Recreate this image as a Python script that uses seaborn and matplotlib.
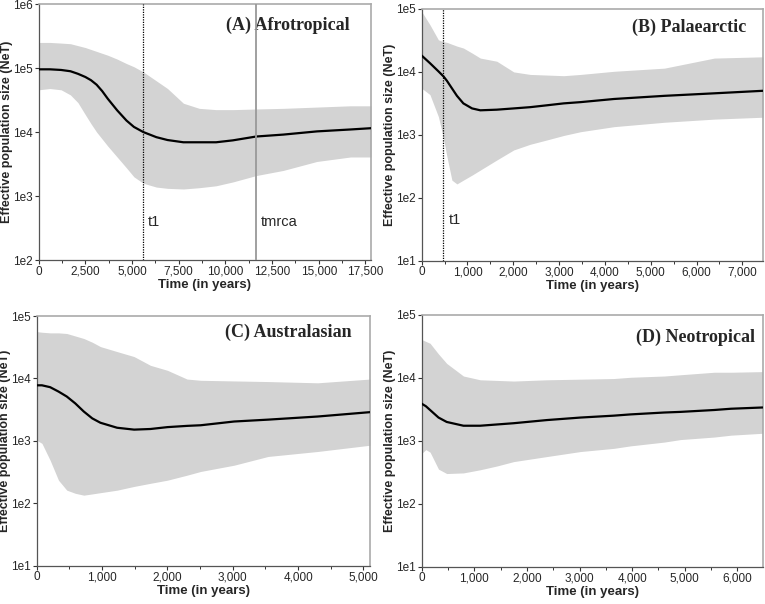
import matplotlib
matplotlib.use("Agg")
import matplotlib.pyplot as plt
import matplotlib.ticker as mticker
import numpy as np
import pandas as pd
import seaborn as sns

# ---- data (values are log10 of NeT) ----
a_years = [0, 600, 1200, 1700, 2100, 2500, 2800, 3100, 3400, 3700, 4200, 4700,
           5100, 5600, 6300, 6900, 7750, 8600, 9500, 10400, 11650, 13100,
           14900, 16700, 17800]
a_median = [4.98, 4.98, 4.97, 4.95, 4.91, 4.86, 4.81, 4.74, 4.64, 4.52, 4.34,
            4.18, 4.08, 4.00, 3.92, 3.875, 3.84, 3.84, 3.84, 3.87, 3.93, 3.96,
            4.01, 4.04, 4.06]
a_upper = [5.40, 5.40, 5.39, 5.38, 5.35, 5.32, 5.29, 5.26, 5.23, 5.20, 5.14,
           5.07, 5.02, 4.94, 4.80, 4.68, 4.45, 4.37, 4.35, 4.35, 4.36, 4.37,
           4.39, 4.41, 4.41]
a_lower = [4.66, 4.68, 4.66, 4.58, 4.46, 4.27, 4.13, 4.00, 3.89, 3.78, 3.61,
           3.44, 3.30, 3.20, 3.14, 3.12, 3.11, 3.13, 3.16, 3.22, 3.32, 3.40,
           3.54, 3.61, 3.61]

b_years = [0, 180, 365, 475, 550, 660, 770, 910, 1100, 1280, 1640, 2010,
           2370, 2740, 3100, 3470, 4200, 5300, 6390, 7450]
b_median = [4.26, 4.14, 4.01, 3.93, 3.86, 3.74, 3.62, 3.50, 3.42, 3.39, 3.40,
            3.42, 3.44, 3.47, 3.50, 3.52, 3.57, 3.62, 3.66, 3.70]
b_upper = [4.96, 4.75, 4.51, 4.48, 4.47, 4.44, 4.41, 4.38, 4.30, 4.22, 4.17,
           4.00, 3.96, 3.95, 3.94, 3.96, 4.01, 4.06, 4.22, 4.24]
b_lower = [3.74, 3.64, 3.29, 2.95, 2.66, 2.28, 2.22, 2.28, 2.36, 2.44, 2.60,
           2.76, 2.85, 2.92, 2.99, 3.05, 3.13, 3.20, 3.25, 3.28]

c_years = [0, 80, 205, 333, 460, 590, 720, 850, 975, 1230, 1490, 1740, 2000,
           2300, 2510, 3020, 3540, 4300, 5100]
c_median = [3.89, 3.89, 3.86, 3.79, 3.71, 3.60, 3.47, 3.36, 3.29, 3.21, 3.18,
            3.19, 3.22, 3.24, 3.25, 3.31, 3.34, 3.39, 3.46]
c_upper = [4.75, 4.74, 4.73, 4.73, 4.72, 4.68, 4.64, 4.58, 4.51, 4.43, 4.35,
           4.21, 4.13, 3.99, 3.97, 3.96, 3.95, 3.93, 3.99]
c_lower = [3.01, 2.96, 2.69, 2.37, 2.21, 2.16, 2.13, 2.15, 2.17, 2.21, 2.27,
           2.32, 2.37, 2.45, 2.51, 2.61, 2.75, 2.83, 2.93]

d_years = [0, 80, 160, 320, 476, 794, 1112, 1430, 1750, 2380, 3020, 3650,
           3970, 4610, 4920, 5560, 5880, 6480]
d_median = [3.59, 3.55, 3.49, 3.37, 3.30, 3.24, 3.24, 3.26, 3.28, 3.33, 3.37,
            3.40, 3.42, 3.45, 3.46, 3.49, 3.51, 3.53]
d_upper = [4.61, 4.58, 4.55, 4.38, 4.23, 4.03, 3.97, 3.96, 3.95, 3.97, 3.98,
           3.99, 4.01, 4.03, 4.05, 4.09, 4.09, 4.10]
d_lower = [2.80, 2.86, 2.82, 2.55, 2.48, 2.49, 2.54, 2.60, 2.67, 2.75, 2.83,
           2.88, 2.92, 2.98, 3.02, 3.06, 3.09, 3.12]

titles = ["(A) Afrotropical", "(B) Palaearctic", "(C) Australasian", "(D) Neotropical"]
x_limits = [17800, 7450, 5100, 6480]
x_major = [2500, 1000, 1000, 1000]
y_limits = [(1e2, 1e6), (1e1, 1e5), (1e1, 1e5), (1e1, 1e5)]

# vertical markers: (panel, year, label, style)
markers = [
    (0, 5600, "t1", "dotted"),
    (0, 11650, "tmrca", "solid"),
    (1, 470, "t1", "dotted"),
]
marker_label_y = [390, 390, 44]

SANS = ["Liberation Sans", "DejaVu Sans"]
SERIF = ["Liberation Serif", "DejaVu Serif"]

sns.set_style("ticks")
plt.rcParams["font.family"] = SANS


def _frame(years, median, upper, lower):
    return pd.DataFrame({
        "years": years,
        "median": 10 ** np.asarray(median),
        "upper": 10 ** np.asarray(upper),
        "lower": 10 ** np.asarray(lower),
    })


def _style_axis(ax, xmax, step, ylim):
    ax.set_yscale("log")
    ax.set_xlim(0, xmax)
    ax.set_ylim(*ylim)
    ax.xaxis.set_major_locator(mticker.MultipleLocator(step))
    ax.xaxis.set_minor_locator(mticker.MultipleLocator(step / 2))
    ax.xaxis.set_major_formatter(mticker.FuncFormatter(lambda v, p: f"{int(v):,}"))
    ax.yaxis.set_major_locator(mticker.LogLocator(base=10, numticks=10))
    ax.yaxis.set_minor_locator(mticker.NullLocator())
    ax.yaxis.set_major_formatter(
        mticker.FuncFormatter(lambda v, p: f"1e{int(round(np.log10(v)))}"))
    ax.tick_params(axis="both", which="major", length=3, width=0.8,
                   labelsize=8.5, pad=1, color="#333333")
    ax.tick_params(axis="x", which="minor", length=2, width=0.7, color="#333333")
    for side in ("left", "bottom"):
        ax.spines[side].set_color("#555555")
        ax.spines[side].set_linewidth(0.9)
    for side in ("top", "right"):
        ax.spines[side].set_color("#aaaaaa")
        ax.spines[side].set_linewidth(1.2)
    ax.set_xlabel("Time (in years)", fontsize=9.5, fontweight="bold", labelpad=1)
    ax.set_ylabel("Effective population size (NeT)", fontsize=9,
                  fontweight="bold", labelpad=0)


fig = plt.figure(figsize=(7.65, 6.04), dpi=100)
rects = [
    [0.0506, 0.5695, 0.4344, 0.4238],
    [0.5512, 0.5684, 0.4461, 0.4167],
    [0.0480, 0.0634, 0.4357, 0.4134],
    [0.5512, 0.0618, 0.4457, 0.4167],
]
title_pos = [(0.937, 0.918), (0.95, 0.929), (0.946, 0.936), (0.977, 0.913)]

panels = [
    _frame(a_years, a_median, a_upper, a_lower),
    _frame(b_years, b_median, b_upper, b_lower),
    _frame(c_years, c_median, c_upper, c_lower),
    _frame(d_years, d_median, d_upper, d_lower),
]

axes = []
for i, df in enumerate(panels):
    ax = fig.add_axes(rects[i])
    ax.fill_between(df["years"], df["lower"], df["upper"], color="#d3d3d3",
                    linewidth=0, zorder=1)
    sns.lineplot(data=df, x="years", y="median", color="black", linewidth=1.6,
                 ax=ax, zorder=3)
    _style_axis(ax, x_limits[i], x_major[i], y_limits[i])
    ax.text(*title_pos[i], titles[i], transform=ax.transAxes, ha="right",
            va="center", fontsize=13, fontweight="bold", family=SERIF)
    axes.append(ax)

for (pi, year, label, style), ly in zip(markers, marker_label_y):
    ax = axes[pi]
    if style == "dotted":
        ax.axvline(year, color="black", linestyle=(0, (1, 1)), linewidth=0.9, zorder=4)
    else:
        ax.axvline(year, color="#999999", linestyle="-", linewidth=1.3, zorder=4)
    offset = x_limits[pi] * 0.015
    ax.text(year + offset, ly, label, fontsize=10.5, ha="left", va="center")

fig.savefig("out.png", dpi=100)
